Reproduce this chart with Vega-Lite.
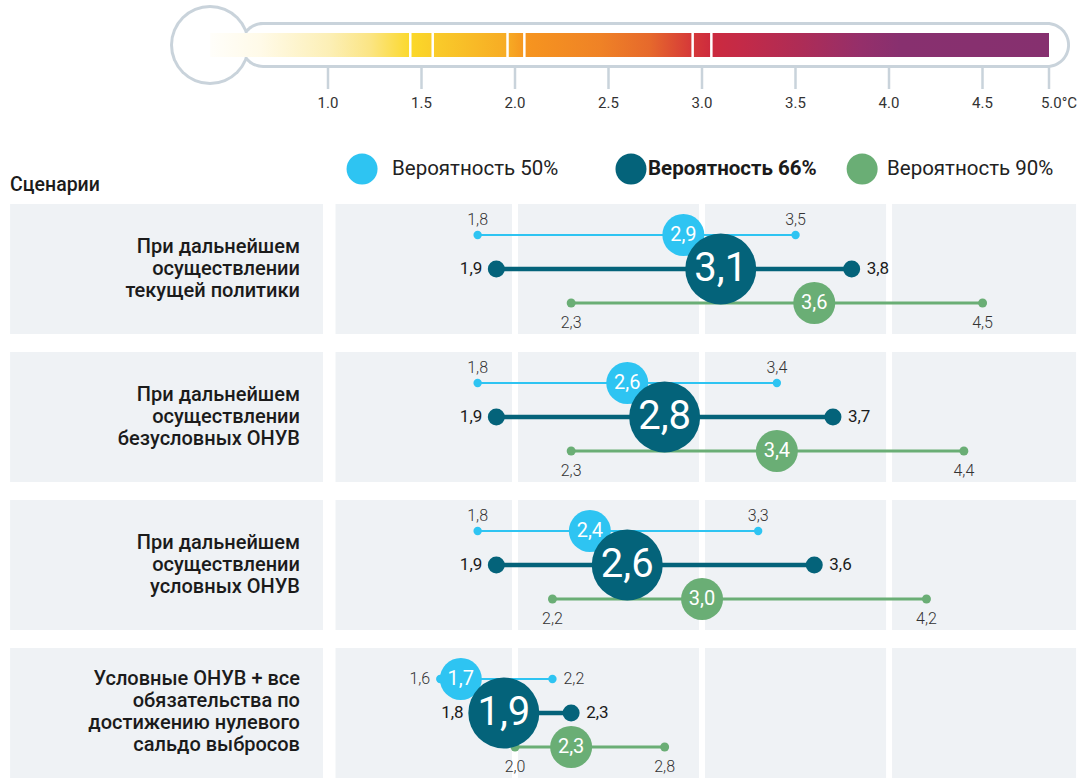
{
  "$schema": "https://vega.github.io/schema/vega-lite/v6.json",
  "padding": 0,
  "spacing": 0,
  "background": "white",
  "config": {
    "view": {"stroke": null},
    "font": "Roboto",
    "locale": {"number": {"decimal": ",", "thousands": " ", "grouping": [3], "currency": ["", ""]}}
  },
  "datasets": {
    "ticks": [
      {"t": 1.0, "label": "1.0"}, {"t": 1.5, "label": "1.5"}, {"t": 2.0, "label": "2.0"},
      {"t": 2.5, "label": "2.5"}, {"t": 3.0, "label": "3.0"}, {"t": 3.5, "label": "3.5"},
      {"t": 4.0, "label": "4.0"}, {"t": 4.5, "label": "4.5"}, {"t": 5.0, "label": "5.0°C"}
    ],
    "marks": [{"m": 1.44}, {"m": 1.56}, {"m": 1.96}, {"m": 2.05}, {"m": 2.95}, {"m": 3.05}],
    "legend": [
      {"prob": "50%", "label": "Вероятность 50%"},
      {"prob": "66%", "label": "Вероятность 66%"},
      {"prob": "90%", "label": "Вероятность 90%"}
    ],
    "scenarios": [
      {"scenario": "текущая политика", "label": ["При дальнейшем", "осуществлении", "текущей политики"]},
      {"scenario": "безусловные ОНУВ", "label": ["При дальнейшем", "осуществлении", "безусловных ОНУВ"]},
      {"scenario": "условные ОНУВ", "label": ["При дальнейшем", "осуществлении", "условных ОНУВ"]},
      {"scenario": "нулевое сальдо", "label": ["Условные ОНУВ + все", "обязательства по", "достижению нулевого", "сальдо выбросов"]}
    ],
    "grid": [{"g": 2}, {"g": 3}, {"g": 4}],
    "ranges": [
      {"scenario": "текущая политика", "prob": "50%", "low": 1.8, "mid": 2.9, "high": 3.5},
      {"scenario": "текущая политика", "prob": "66%", "low": 1.9, "mid": 3.1, "high": 3.8},
      {"scenario": "текущая политика", "prob": "90%", "low": 2.3, "mid": 3.6, "high": 4.5},
      {"scenario": "безусловные ОНУВ", "prob": "50%", "low": 1.8, "mid": 2.6, "high": 3.4},
      {"scenario": "безусловные ОНУВ", "prob": "66%", "low": 1.9, "mid": 2.8, "high": 3.7},
      {"scenario": "безусловные ОНУВ", "prob": "90%", "low": 2.3, "mid": 3.4, "high": 4.4},
      {"scenario": "условные ОНУВ", "prob": "50%", "low": 1.8, "mid": 2.4, "high": 3.3},
      {"scenario": "условные ОНУВ", "prob": "66%", "low": 1.9, "mid": 2.6, "high": 3.6},
      {"scenario": "условные ОНУВ", "prob": "90%", "low": 2.2, "mid": 3.0, "high": 4.2},
      {"scenario": "нулевое сальдо", "prob": "50%", "low": 1.6, "mid": 1.71, "high": 2.2},
      {"scenario": "нулевое сальдо", "prob": "66%", "low": 1.8, "mid": 1.94, "high": 2.3},
      {"scenario": "нулевое сальдо", "prob": "90%", "low": 2.0, "mid": 2.3, "high": 2.8}
    ]
  },
  "resolve": {"scale": {"x": "independent", "y": "independent", "size": "independent"}},
  "vconcat": [
    {
      "width": 1086,
      "height": 120,
      "layer": [
        {
          "data": {"values": [{"k": 1}]},
          "mark": {"type": "rect", "fill": "#c9d3db", "cornerRadius": 23},
          "encoding": {
            "x": {"datum": 0.53, "type": "quantitative", "scale": {"domain": [-0.754, 4.5, 5.0, 5.278], "range": [0, 982.5, 1049, 1086], "nice": false, "zero": false}, "axis": null},
            "x2": {"datum": 5.158},
            "y": {"datum": 22, "type": "quantitative", "scale": {"domain": [120, 0], "nice": false, "zero": false}, "axis": null},
            "y2": {"datum": 68}
          }
        },
        {
          "data": {"values": [{"k": 1}]},
          "mark": {"type": "circle", "fill": "#c9d3db", "opacity": 1, "size": 6400},
          "encoding": {
            "x": {"datum": 0.369, "type": "quantitative"},
            "y": {"datum": 45, "type": "quantitative"}
          }
        },
        {
          "data": {"values": [{"k": 1}]},
          "mark": {"type": "rect", "fill": "white", "cornerRadius": 20},
          "encoding": {
            "x": {"datum": 0.546, "type": "quantitative"},
            "x2": {"datum": 5.136},
            "y": {"datum": 25, "type": "quantitative"},
            "y2": {"datum": 65}
          }
        },
        {
          "data": {"values": [{"k": 1}]},
          "mark": {"type": "circle", "fill": "white", "opacity": 1, "size": 5476},
          "encoding": {
            "x": {"datum": 0.369, "type": "quantitative"},
            "y": {"datum": 45, "type": "quantitative"}
          }
        },
        {
          "data": {"values": [{"k": 1}]},
          "mark": {
            "type": "rect",
            "fill": {
              "gradient": "linear", "x1": 0, "x2": 1, "y1": 0, "y2": 0,
              "stops": [
                {"offset": 0, "color": "#fffefa"},
                {"offset": 0.06, "color": "#fffae8"},
                {"offset": 0.143, "color": "#fcefb5"},
                {"offset": 0.19, "color": "#fbe585"},
                {"offset": 0.24, "color": "#fbd829"},
                {"offset": 0.274, "color": "#f9c92a"},
                {"offset": 0.355, "color": "#f7ab24"},
                {"offset": 0.375, "color": "#f6951f"},
                {"offset": 0.465, "color": "#ef8226"},
                {"offset": 0.524, "color": "#e6692c"},
                {"offset": 0.572, "color": "#d63a38"},
                {"offset": 0.598, "color": "#cc2a3e"},
                {"offset": 0.632, "color": "#c42a47"},
                {"offset": 0.703, "color": "#ae2c56"},
                {"offset": 0.775, "color": "#952f6a"},
                {"offset": 0.822, "color": "#88306f"},
                {"offset": 1, "color": "#86306f"}
              ]
            }
          },
          "encoding": {
            "x": {"datum": 0.37, "type": "quantitative"},
            "x2": {"datum": 5.0},
            "y": {"datum": 33, "type": "quantitative"},
            "y2": {"datum": 57}
          }
        },
        {
          "data": {"name": "marks"},
          "mark": {"type": "rule", "stroke": "white", "strokeWidth": 2.5},
          "encoding": {
            "x": {"field": "m", "type": "quantitative"},
            "y": {"datum": 33, "type": "quantitative"},
            "y2": {"datum": 57}
          }
        },
        {
          "data": {"name": "ticks"},
          "mark": {"type": "rule", "stroke": "#c9d3db", "strokeWidth": 2.5},
          "encoding": {
            "x": {"field": "t", "type": "quantitative"},
            "y": {"datum": 68, "type": "quantitative"},
            "y2": {"datum": 89}
          }
        },
        {
          "data": {"name": "ticks"},
          "transform": [{"filter": "datum.t < 5"}],
          "mark": {"type": "text", "fontSize": 15, "fill": "#333333", "align": "center", "baseline": "middle"},
          "encoding": {
            "x": {"field": "t", "type": "quantitative"},
            "y": {"datum": 103, "type": "quantitative"},
            "text": {"field": "label"}
          }
        },
        {
          "data": {"name": "ticks"},
          "transform": [{"filter": "datum.t >= 5"}],
          "mark": {"type": "text", "fontSize": 15, "fill": "#333333", "align": "center", "baseline": "middle", "dx": 10},
          "encoding": {
            "x": {"field": "t", "type": "quantitative"},
            "y": {"datum": 103, "type": "quantitative"},
            "text": {"field": "label"}
          }
        }
      ]
    },
    {
      "width": 1086,
      "height": 84,
      "data": {"name": "legend"},
      "layer": [
        {
          "mark": {"type": "text", "text": "Сценарии", "fontSize": 19.5, "fontWeight": 500, "fill": "#1b1b1b", "align": "left", "baseline": "middle"},
          "transform": [{"filter": "datum.prob == '50%'"}],
          "encoding": {
            "x": {"datum": -0.7, "type": "quantitative", "scale": {"domain": [-0.754, 5.053], "nice": false, "zero": false}, "axis": null},
            "y": {"datum": 65, "type": "quantitative", "scale": {"domain": [84, 0], "nice": false, "zero": false}, "axis": null}
          }
        },
        {
          "transform": [{"filter": "datum.prob == '50%'"}],
          "mark": {"type": "circle", "size": 961, "opacity": 1},
          "encoding": {
            "x": {"datum": 1.182, "type": "quantitative"},
            "y": {"datum": 49, "type": "quantitative"},
            "color": {"field": "prob", "type": "nominal", "scale": {"domain": ["50%", "66%", "90%"], "range": ["#2ec4f2", "#04637a", "#6aae75"]}, "legend": null}
          }
        },
        {
          "transform": [{"filter": "datum.prob == '66%'"}],
          "mark": {"type": "circle", "size": 961, "opacity": 1},
          "encoding": {
            "x": {"datum": 2.62, "type": "quantitative"},
            "y": {"datum": 49, "type": "quantitative"},
            "color": {"field": "prob", "type": "nominal", "legend": null}
          }
        },
        {
          "transform": [{"filter": "datum.prob == '90%'"}],
          "mark": {"type": "circle", "size": 961, "opacity": 1},
          "encoding": {
            "x": {"datum": 3.856, "type": "quantitative"},
            "y": {"datum": 49, "type": "quantitative"},
            "color": {"field": "prob", "type": "nominal", "legend": null}
          }
        },
        {
          "transform": [{"filter": "datum.prob == '50%'"}],
          "mark": {"type": "text", "fontSize": 20.5, "fill": "#222222", "align": "left", "baseline": "middle"},
          "encoding": {
            "x": {"datum": 1.342, "type": "quantitative"},
            "y": {"datum": 49, "type": "quantitative"},
            "text": {"field": "label"}
          }
        },
        {
          "transform": [{"filter": "datum.prob == '66%'"}],
          "mark": {"type": "text", "fontSize": 20.5, "fontWeight": "bold", "fill": "#1b1b1b", "align": "left", "baseline": "middle"},
          "encoding": {
            "x": {"datum": 2.711, "type": "quantitative"},
            "y": {"datum": 49, "type": "quantitative"},
            "text": {"field": "label"}
          }
        },
        {
          "transform": [{"filter": "datum.prob == '90%'"}],
          "mark": {"type": "text", "fontSize": 20.5, "fill": "#222222", "align": "left", "baseline": "middle"},
          "encoding": {
            "x": {"datum": 3.989, "type": "quantitative"},
            "y": {"datum": 49, "type": "quantitative"},
            "text": {"field": "label"}
          }
        }
      ]
    },
    {
      "width": 1086,
      "height": 574,
      "resolve": {"scale": {"size": "independent", "yOffset": "independent"}},
      "layer": [
        {
          "data": {"name": "scenarios"},
          "mark": {"type": "rect", "fill": "#eff2f5"},
          "encoding": {
            "x": {"datum": -0.7, "type": "quantitative", "scale": {"domain": [-0.754, 5.053], "nice": false, "zero": false}, "axis": null},
            "x2": {"datum": 0.973},
            "y": {"field": "scenario", "type": "nominal", "sort": null, "scale": {"type": "band", "domain": ["текущая политика", "безусловные ОНУВ", "условные ОНУВ", "нулевое сальдо"], "paddingInner": 0.1216, "paddingOuter": 0, "round": false}, "axis": null}
          }
        },
        {
          "data": {"name": "scenarios"},
          "mark": {"type": "rect", "fill": "#eff2f5"},
          "encoding": {
            "x": {"datum": 1.04, "type": "quantitative"},
            "x2": {"datum": 5.0},
            "y": {"field": "scenario", "type": "nominal"}
          }
        },
        {
          "data": {"name": "grid"},
          "mark": {"type": "rule", "stroke": "white", "strokeWidth": 6, "clip": true},
          "encoding": {
            "x": {"field": "g", "type": "quantitative"}
          }
        },
        {
          "data": {"name": "scenarios"},
          "transform": [{"filter": "length(datum.label) == 3"}],
          "mark": {"type": "text", "align": "right", "baseline": "middle", "fontSize": 20, "lineHeight": 22, "fontWeight": 500, "fill": "#1b1b1b", "dy": -22},
          "encoding": {
            "x": {"datum": 0.85, "type": "quantitative"},
            "y": {"field": "scenario", "type": "nominal"},
            "text": {"field": "label"}
          }
        },
        {
          "data": {"name": "scenarios"},
          "transform": [{"filter": "length(datum.label) == 4"}],
          "mark": {"type": "text", "align": "right", "baseline": "middle", "fontSize": 20, "lineHeight": 22, "fontWeight": 500, "fill": "#1b1b1b", "dy": -34},
          "encoding": {
            "x": {"datum": 0.85, "type": "quantitative"},
            "y": {"field": "scenario", "type": "nominal"},
            "text": {"field": "label"}
          }
        },
        {
          "data": {"name": "ranges"},
          "mark": {"type": "rule"},
          "encoding": {
            "x": {"field": "low", "type": "quantitative"},
            "x2": {"field": "high"},
            "y": {"field": "scenario", "type": "nominal"},
            "yOffset": {"field": "prob", "type": "nominal", "scale": {"type": "point", "domain": ["50%", "66%", "90%"], "padding": 0.912}},
            "color": {"field": "prob", "type": "nominal", "scale": {"domain": ["50%", "66%", "90%"], "range": ["#2ec4f2", "#04637a", "#6aae75"]}, "legend": null},
            "strokeWidth": {"field": "prob", "type": "nominal", "scale": {"type": "ordinal", "domain": ["50%", "66%", "90%"], "range": [2, 4.5, 3]}, "legend": null}
          }
        },
        {
          "data": {"name": "ranges"},
          "transform": [{"fold": ["low", "high"], "as": ["end", "v"]}],
          "mark": {"type": "circle", "opacity": 1},
          "encoding": {
            "x": {"field": "v", "type": "quantitative"},
            "y": {"field": "scenario", "type": "nominal"},
            "yOffset": {"field": "prob", "type": "nominal", "scale": {"type": "point", "domain": ["50%", "66%", "90%"], "padding": 0.912}},
            "color": {"field": "prob", "type": "nominal", "legend": null},
            "size": {"field": "prob", "type": "nominal", "scale": {"type": "ordinal", "domain": ["50%", "66%", "90%"], "range": [70, 289, 80]}, "legend": null}
          }
        },
        {
          "data": {"name": "ranges"},
          "mark": {"type": "circle", "opacity": 1},
          "encoding": {
            "x": {"field": "mid", "type": "quantitative"},
            "y": {"field": "scenario", "type": "nominal"},
            "yOffset": {"field": "prob", "type": "nominal", "scale": {"type": "point", "domain": ["50%", "66%", "90%"], "padding": 0.912}},
            "color": {"field": "prob", "type": "nominal", "legend": null},
            "size": {"field": "prob", "type": "nominal", "scale": {"type": "ordinal", "domain": ["50%", "66%", "90%"], "range": [1764, 5041, 1764]}, "legend": null}
          }
        },
        {
          "data": {"name": "ranges"},
          "mark": {"type": "text", "fill": "white", "align": "center", "baseline": "middle"},
          "encoding": {
            "x": {"field": "mid", "type": "quantitative"},
            "y": {"field": "scenario", "type": "nominal"},
            "yOffset": {"field": "prob", "type": "nominal", "scale": {"type": "point", "domain": ["50%", "66%", "90%"], "padding": 0.912}},
            "text": {"field": "mid", "type": "quantitative", "format": ".1f"},
            "size": {"field": "prob", "type": "nominal", "scale": {"type": "ordinal", "domain": ["50%", "66%", "90%"], "range": [20, 40, 20]}, "legend": null}
          }
        },
        {
          "data": {"name": "ranges"},
          "transform": [{"filter": "datum.prob == '50%' && datum.scenario != 'нулевое сальдо'"}, {"fold": ["low", "high"], "as": ["end", "v"]}],
          "mark": {"type": "text", "fontSize": 16, "fontWeight": 300, "fill": "#333333", "align": "center", "baseline": "middle", "dy": -15},
          "encoding": {
            "x": {"field": "v", "type": "quantitative"},
            "y": {"field": "scenario", "type": "nominal"},
            "yOffset": {"field": "prob", "type": "nominal", "scale": {"type": "point", "domain": ["50%", "66%", "90%"], "padding": 0.912}},
            "text": {"field": "v", "type": "quantitative", "format": ".1f"}
          }
        },
        {
          "data": {"name": "ranges"},
          "transform": [{"filter": "datum.prob == '50%' && datum.scenario == 'нулевое сальдо'"}],
          "mark": {"type": "text", "fontSize": 16, "fontWeight": 300, "fill": "#333333", "align": "right", "baseline": "middle", "dx": -10},
          "encoding": {
            "x": {"field": "low", "type": "quantitative"},
            "y": {"field": "scenario", "type": "nominal"},
            "yOffset": {"field": "prob", "type": "nominal", "scale": {"type": "point", "domain": ["50%", "66%", "90%"], "padding": 0.912}},
            "text": {"field": "low", "type": "quantitative", "format": ".1f"}
          }
        },
        {
          "data": {"name": "ranges"},
          "transform": [{"filter": "datum.prob == '50%' && datum.scenario == 'нулевое сальдо'"}],
          "mark": {"type": "text", "fontSize": 16, "fontWeight": 300, "fill": "#333333", "align": "left", "baseline": "middle", "dx": 11},
          "encoding": {
            "x": {"field": "high", "type": "quantitative"},
            "y": {"field": "scenario", "type": "nominal"},
            "yOffset": {"field": "prob", "type": "nominal", "scale": {"type": "point", "domain": ["50%", "66%", "90%"], "padding": 0.912}},
            "text": {"field": "high", "type": "quantitative", "format": ".1f"}
          }
        },
        {
          "data": {"name": "ranges"},
          "transform": [{"filter": "datum.prob == '90%'"}, {"fold": ["low", "high"], "as": ["end", "v"]}],
          "mark": {"type": "text", "fontSize": 16, "fontWeight": 300, "fill": "#333333", "align": "center", "baseline": "middle", "dy": 20},
          "encoding": {
            "x": {"field": "v", "type": "quantitative"},
            "y": {"field": "scenario", "type": "nominal"},
            "yOffset": {"field": "prob", "type": "nominal", "scale": {"type": "point", "domain": ["50%", "66%", "90%"], "padding": 0.912}},
            "text": {"field": "v", "type": "quantitative", "format": ".1f"}
          }
        },
        {
          "data": {"name": "ranges"},
          "transform": [{"filter": "datum.prob == '66%'"}],
          "mark": {"type": "text", "fontSize": 17, "fill": "#1b1b1b", "align": "right", "baseline": "middle", "dx": -14},
          "encoding": {
            "x": {"field": "low", "type": "quantitative"},
            "y": {"field": "scenario", "type": "nominal"},
            "yOffset": {"field": "prob", "type": "nominal", "scale": {"type": "point", "domain": ["50%", "66%", "90%"], "padding": 0.912}},
            "text": {"field": "low", "type": "quantitative", "format": ".1f"}
          }
        },
        {
          "data": {"name": "ranges"},
          "transform": [{"filter": "datum.prob == '66%'"}],
          "mark": {"type": "text", "fontSize": 17, "fill": "#1b1b1b", "align": "left", "baseline": "middle", "dx": 15},
          "encoding": {
            "x": {"field": "high", "type": "quantitative"},
            "y": {"field": "scenario", "type": "nominal"},
            "yOffset": {"field": "prob", "type": "nominal", "scale": {"type": "point", "domain": ["50%", "66%", "90%"], "padding": 0.912}},
            "text": {"field": "high", "type": "quantitative", "format": ".1f"}
          }
        }
      ]
    }
  ]
}
